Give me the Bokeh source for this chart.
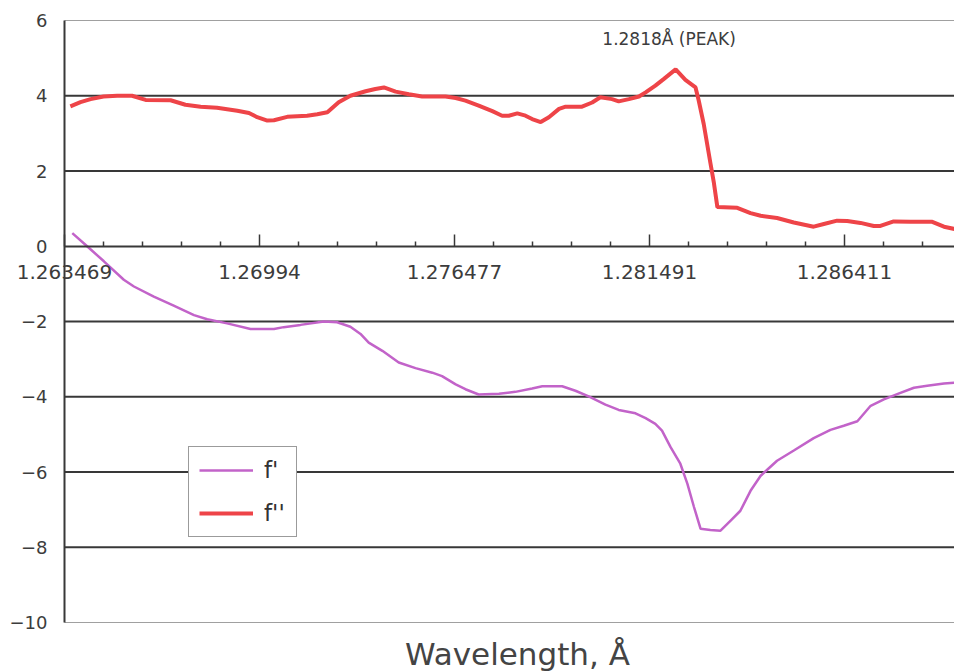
from bokeh.plotting import figure
from bokeh.models import Range1d, FixedTicker, Label, Legend, LegendItem, LinearAxis
from bokeh.embed import file_html
from bokeh.resources import INLINE

# ---- data (x = position along the category axis, in tick units) ----
tick_pos = [0, 5, 10, 15, 20]
tick_labels = ["1.263469", "1.26994", "1.276477", "1.281491", "1.286411"]
y_ticks = [-10, -8, -6, -4, -2, 0, 2, 4, 6]
grid_levels = [-8, -6, -4, -2, 2, 4]

pos_fp = [0.20, 0.58, 1.01, 1.52, 1.78, 2.29, 2.80, 3.32, 3.66, 4.17, 4.77, 5.37, 5.62, 6.05,
          6.65, 6.99, 7.33, 7.59, 7.80, 8.15, 8.57, 9.00, 9.43, 9.68, 10.03, 10.28, 10.62,
          11.14, 11.56, 11.99, 12.25, 12.76, 13.10, 13.44, 13.87, 14.21, 14.64, 14.90, 15.15,
          15.32, 15.54, 15.79, 15.97, 16.14, 16.31, 16.56, 16.82, 17.08, 17.33, 17.59, 17.85,
          18.27, 18.70, 19.21, 19.64, 19.98, 20.33, 20.67, 21.01, 21.35, 21.78, 22.12, 22.55, 22.82]
fp = [0.35, 0.0, -0.40, -0.89, -1.07, -1.34, -1.58, -1.83, -1.94, -2.05, -2.20, -2.20, -2.15, -2.09,
      -2.00, -2.02, -2.14, -2.33, -2.56, -2.78, -3.09, -3.24, -3.36, -3.45, -3.67, -3.80, -3.94,
      -3.92, -3.87, -3.78, -3.72, -3.72, -3.84, -3.99, -4.21, -4.35, -4.44, -4.57, -4.72,
      -4.90, -5.34, -5.78, -6.31, -6.93, -7.51, -7.54, -7.56, -7.29, -7.03, -6.50, -6.10,
      -5.70, -5.43, -5.10, -4.88, -4.77, -4.65, -4.24, -4.07, -3.93, -3.76, -3.71, -3.65, -3.63]

pos_fpp = [0.15, 0.41, 0.67, 1.00, 1.35, 1.73, 2.08, 2.72, 3.10, 3.49, 3.91, 4.43, 4.73, 4.94,
           5.20, 5.37, 5.71, 6.22, 6.48, 6.74, 7.03, 7.33, 7.72, 7.97, 8.19, 8.49, 8.83, 9.17,
           9.77, 10.03, 10.28, 10.62, 10.97, 11.22, 11.39, 11.61, 11.82, 11.99, 12.21, 12.42,
           12.68, 12.85, 13.27, 13.53, 13.74, 14.04, 14.21, 14.47, 14.73, 14.90, 15.15, 15.37,
           15.67, 15.92, 16.18, 16.26, 16.39, 16.56, 16.65, 16.74, 17.25, 17.59, 17.85, 18.27,
           18.70, 19.21, 19.47, 19.81, 20.07, 20.41, 20.75, 20.92, 21.26, 21.69, 22.25, 22.55, 22.82]
fpp = [3.72, 3.83, 3.91, 3.98, 4.00, 4.00, 3.89, 3.88, 3.76, 3.71, 3.68, 3.60, 3.54, 3.43,
       3.34, 3.35, 3.44, 3.47, 3.51, 3.56, 3.83, 4.00, 4.12, 4.18, 4.22, 4.11, 4.04, 3.98,
       3.98, 3.94, 3.87, 3.74, 3.59, 3.47, 3.47, 3.53, 3.47, 3.38, 3.30, 3.43,
       3.65, 3.71, 3.71, 3.82, 3.96, 3.91, 3.85, 3.91, 3.98, 4.09, 4.27, 4.45,
       4.70, 4.42, 4.22, 3.88, 3.25, 2.22, 1.69, 1.04, 1.02, 0.88, 0.81, 0.75,
       0.63, 0.52, 0.59, 0.68, 0.67, 0.62, 0.54, 0.54, 0.66, 0.65, 0.65, 0.52, 0.46]

peak_label = "1.2818Å (PEAK)"
x_title = "Wavelength, Å"

PURPLE = "#c263c9"
RED = "#ee4448"
DARK = "#383838"
TXT = "#3c3c3c"
FONT = "DejaVu Sans"

X0, X1 = 0.0, 22.82
Y0, Y1 = -10.0, 6.0

# the frame fills the whole canvas; the category x axis and value y axis are
# pinned at 0 so that their labels stay inside the drawable area
p = figure(width=954, height=671, output_backend="svg", toolbar_location=None,
           x_range=Range1d(-64 / 39, X1), y_range=Range1d(Y0 - 49 / 37.625, Y1 + 20 / 37.625),
           min_border_left=0, min_border_right=0, min_border_top=0, min_border_bottom=0,
           x_axis_location=None, y_axis_location=None)
p.background_fill_color = "white"
p.border_fill_color = "white"
p.outline_line_color = None
p.xgrid.visible = False
p.ygrid.visible = False

# horizontal grid lines and the light frame edges
p.segment(x0=[X0] * len(grid_levels), x1=[X1] * len(grid_levels), y0=grid_levels, y1=grid_levels,
          line_color=DARK, line_width=2)
p.segment(x0=[X0, X0], x1=[X1, X1], y0=[Y1, Y0], y1=[Y1, Y0], line_color="#a0a0a0", line_width=1)

# value axis
yax = LinearAxis(fixed_location=0, bounds=(Y0, Y1), ticker=FixedTicker(ticks=y_ticks))
yax.major_tick_in = 0
yax.major_tick_out = 0
yax.minor_tick_in = 0
yax.minor_tick_out = 0
yax.axis_line_color = DARK
yax.axis_line_width = 2
yax.major_label_standoff = 17
yax.major_label_text_font = FONT
yax.major_label_text_font_size = "18px"
yax.major_label_text_color = TXT
p.add_layout(yax, "left")

# category axis crossing at y = 0
xax = LinearAxis(fixed_location=0, bounds=(X0, X1),
                 ticker=FixedTicker(ticks=tick_pos, minor_ticks=[i for i in range(1, 23) if i % 5]))
xax.major_label_overrides = {t: l for t, l in zip(tick_pos, tick_labels)}
xax.axis_line_color = DARK
xax.axis_line_width = 2
xax.major_tick_in = 12
xax.major_tick_out = 0
xax.minor_tick_in = 5
xax.minor_tick_out = 0
xax.major_tick_line_color = DARK
xax.minor_tick_line_color = DARK
xax.major_tick_line_width = 1.5
xax.minor_tick_line_width = 1.5
xax.major_label_standoff = 19
xax.major_label_text_font = FONT
xax.major_label_text_font_size = "20px"
xax.major_label_text_color = TXT
p.add_layout(xax, "below")

r1 = p.line(pos_fp, fp, line_color=PURPLE, line_width=2.5)
r2 = p.line(pos_fpp, fpp, line_color=RED, line_width=4)

legend = Legend(items=[LegendItem(label="f'", renderers=[r1]),
                       LegendItem(label="f''", renderers=[r2])],
                location=(188, 134), orientation="vertical",
                glyph_width=54, glyph_height=26, label_height=26, label_width=22,
                label_standoff=11, spacing=17, padding=10, margin=0,
                border_line_color=DARK, border_line_width=1.5,
                background_fill_color="white", background_fill_alpha=1,
                label_text_font=FONT, label_text_font_size="23px", label_text_color="#333333")
p.add_layout(legend)

p.add_layout(Label(x=13.79, y=5.52, text=peak_label, text_font=FONT, text_font_size="17px",
                   text_color=TXT, text_baseline="alphabetic", text_align="left"))

p.add_layout(Label(x=11.615, y=-10.83, text=x_title,
                   text_font=FONT, text_font_size="31px", text_color="#444444",
                   text_align="center", text_baseline="alphabetic"))

open("out.html", "w").write(file_html(p, INLINE))
